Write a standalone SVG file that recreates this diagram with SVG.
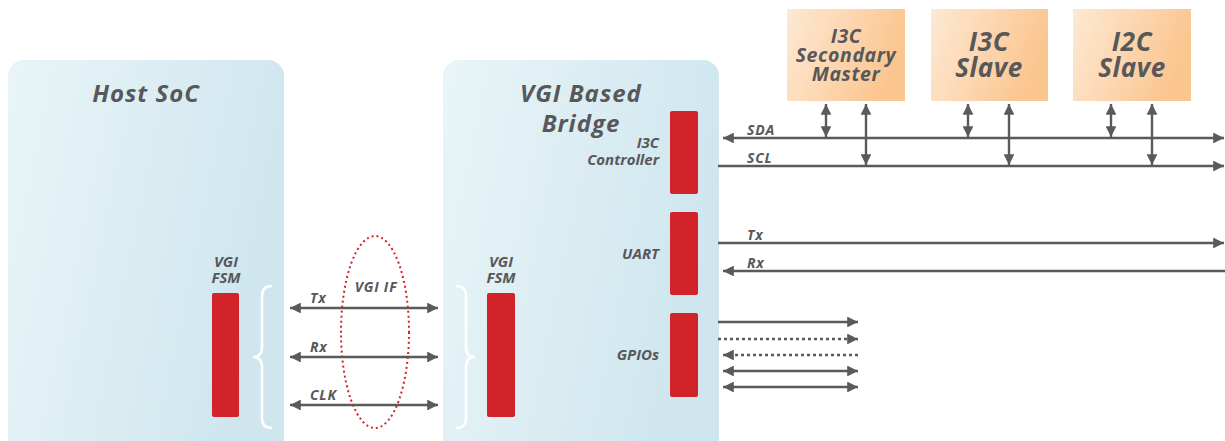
<svg xmlns="http://www.w3.org/2000/svg" width="1225" height="441" viewBox="0 0 1225 441">
<defs>
<linearGradient id="blue" x1="0" y1="0" x2="1" y2="0.3">
<stop offset="0" stop-color="#e9f5f8"/>
<stop offset="1" stop-color="#cfe6ee"/>
</linearGradient>
<linearGradient id="orange" x1="0" y1="0" x2="1" y2="0.3">
<stop offset="0" stop-color="#fde9d4"/>
<stop offset="1" stop-color="#fbc58f"/>
</linearGradient>
<marker id="ah" viewBox="0 0 10 10" refX="10" refY="5" markerWidth="4.5" markerHeight="4.5" markerUnits="strokeWidth" orient="auto-start-reverse">
<path d="M0,0 L10,5 L0,10 z" fill="#5a5a5c"/>
</marker>
<style>
text{font-family:"Open Sans","Liberation Sans",sans-serif;font-weight:bold;font-style:italic;fill:#58585a}
.big{font-size:24px;letter-spacing:1px}
.sm{font-size:15px}
.lbl{font-size:14px;letter-spacing:0.8px}
.om{font-size:19.5px;letter-spacing:0.6px}
.ob{font-size:26px;letter-spacing:0.6px}
.ln{stroke:#5a5a5c;stroke-width:2.4;fill:none}
.dot{stroke-dasharray:3 3}
.red{fill:#d2232a}
.brace{stroke:#ffffff;stroke-width:2.5;fill:none}
</style>
</defs>
<g id="host-soc">
<rect x="8" y="60" width="276" height="400" rx="16" fill="url(#blue)"/>
<text class="big" x="146" y="102" text-anchor="middle">Host SoC</text>
<text class="sm" text-anchor="middle"><tspan x="226" y="267">VGI</tspan><tspan x="226" y="283">FSM</tspan></text>
<rect class="red" x="212" y="293" width="27" height="124" rx="2"/>
<path class="brace" d="M272,286 Q262,286 262,296 L262,347 Q262,357 253,357 Q262,357 262,367 L262,418 Q262,428 272,428"/>
</g>
<g id="bridge">
<rect x="443" y="60" width="276" height="400" rx="16" fill="url(#blue)"/>
<text class="big" text-anchor="middle"><tspan x="581" y="102">VGI Based</tspan><tspan x="581" y="132">Bridge</tspan></text>
<text class="sm" text-anchor="middle"><tspan x="501" y="267">VGI</tspan><tspan x="501" y="283">FSM</tspan></text>
<rect class="red" x="487" y="293" width="28" height="124" rx="2"/>
<path class="brace" d="M456,286 Q466,286 466,296 L466,347 Q466,357 475,357 Q466,357 466,367 L466,418 Q466,428 456,428"/>
</g>
<g id="i3c-controller">
<rect class="red" x="670" y="111" width="28" height="83" rx="2"/>
<text class="sm" text-anchor="end"><tspan x="659" y="148">I3C</tspan><tspan x="659" y="165">Controller</tspan></text>
</g>
<g id="uart">
<rect class="red" x="670" y="212" width="28" height="83" rx="2"/>
<text class="sm" x="659" y="259" text-anchor="end">UART</text>
</g>
<g id="gpios">
<rect class="red" x="670" y="313" width="28" height="84" rx="2"/>
<text class="sm" x="659" y="360" text-anchor="end">GPIOs</text>
</g>
<g id="i3c-secondary-master">
<rect x="787" y="9" width="118" height="92" fill="url(#orange)"/>
<text class="om" text-anchor="middle"><tspan x="846" y="43">I3C</tspan><tspan x="846" y="62">Secondary</tspan><tspan x="846" y="81">Master</tspan></text>
</g>
<g id="i3c-slave">
<rect x="931" y="9" width="117" height="92" fill="url(#orange)"/>
<text class="ob" text-anchor="middle"><tspan x="989" y="51">I3C</tspan><tspan x="989" y="77">Slave</tspan></text>
</g>
<g id="i2c-slave">
<rect x="1073" y="9" width="118" height="92" fill="url(#orange)"/>
<text class="ob" text-anchor="middle"><tspan x="1132" y="51">I2C</tspan><tspan x="1132" y="77">Slave</tspan></text>
</g>
<g id="vgi-if">
<ellipse cx="375" cy="332" rx="34" ry="96" fill="none" stroke="#d2232a" stroke-width="2" stroke-dasharray="2 3"/>
<text class="lbl" x="376" y="292" text-anchor="middle">VGI IF</text>
</g>
<g id="connectors">
<line class="ln" x1="290" y1="308" x2="438" y2="308" marker-start="url(#ah)" marker-end="url(#ah)"/>
<line class="ln" x1="290" y1="357" x2="438" y2="357" marker-start="url(#ah)" marker-end="url(#ah)"/>
<line class="ln" x1="290" y1="405" x2="438" y2="405" marker-start="url(#ah)" marker-end="url(#ah)"/>
<text class="lbl" x="310" y="303">Tx</text>
<text class="lbl" x="310" y="352">Rx</text>
<text class="lbl" x="310" y="400">CLK</text>
<line class="ln" x1="723" y1="138" x2="1224" y2="138" marker-start="url(#ah)" marker-end="url(#ah)"/>
<line class="ln" x1="718" y1="166" x2="1224" y2="166" marker-end="url(#ah)"/>
<text class="lbl" x="747" y="135">SDA</text>
<text class="lbl" x="747" y="163">SCL</text>
<line class="ln" x1="826" y1="104" x2="826" y2="137" marker-start="url(#ah)" marker-end="url(#ah)"/>
<line class="ln" x1="866" y1="104" x2="866" y2="165" marker-start="url(#ah)" marker-end="url(#ah)"/>
<line class="ln" x1="968" y1="104" x2="968" y2="137" marker-start="url(#ah)" marker-end="url(#ah)"/>
<line class="ln" x1="1009" y1="104" x2="1009" y2="165" marker-start="url(#ah)" marker-end="url(#ah)"/>
<line class="ln" x1="1111" y1="104" x2="1111" y2="137" marker-start="url(#ah)" marker-end="url(#ah)"/>
<line class="ln" x1="1152" y1="104" x2="1152" y2="165" marker-start="url(#ah)" marker-end="url(#ah)"/>
<line class="ln" x1="718" y1="243" x2="1224" y2="243" marker-end="url(#ah)"/>
<line class="ln" x1="723" y1="271" x2="1225" y2="271" marker-start="url(#ah)"/>
<text class="lbl" x="747" y="240">Tx</text>
<text class="lbl" x="747" y="268">Rx</text>
<line class="ln" x1="718" y1="322" x2="858" y2="322" marker-end="url(#ah)"/>
<line class="ln dot" x1="718" y1="339" x2="858" y2="339" marker-end="url(#ah)"/>
<line class="ln dot" x1="723" y1="355" x2="859" y2="355" marker-start="url(#ah)"/>
<line class="ln" x1="723" y1="371" x2="858" y2="371" marker-start="url(#ah)" marker-end="url(#ah)"/>
<line class="ln" x1="723" y1="387" x2="858" y2="387" marker-start="url(#ah)" marker-end="url(#ah)"/>
</g>
</svg>
